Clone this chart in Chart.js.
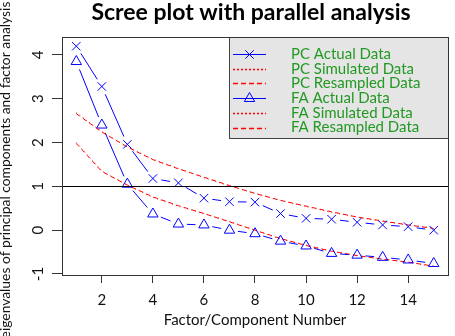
<!DOCTYPE html>
<html>
<head>
<meta charset="utf-8">
<script src="https://cdn.jsdelivr.net/npm/chart.js@4/dist/chart.umd.min.js"></script>
<style>
  html, body { margin: 0; padding: 0; background: #fff; }
  #wrap { width: 455px; height: 336px; }
</style>
</head>
<body>
<div id="wrap"><canvas id="scree" width="455" height="336"></canvas></div>
<script>
// factor / component numbers
const factorNum = [1, 2, 3, 4, 5, 6, 7, 8, 9, 10, 11, 12, 13, 14, 15];

// eigenvalues
const pcActual    = [4.2, 3.28, 1.96, 1.18, 1.08, 0.73, 0.65, 0.64, 0.38, 0.27, 0.25, 0.18, 0.12, 0.08, 0.0];
const pcSimulated = [2.68, 2.25, 1.9, 1.62, 1.41, 1.2, 1.01, 0.84, 0.68, 0.54, 0.41, 0.3, 0.2, 0.12, 0.05];
const pcResampled = [2.66, 2.24, 1.9, 1.61, 1.4, 1.21, 1.02, 0.84, 0.68, 0.55, 0.42, 0.3, 0.21, 0.12, 0.04];
const faActual    = [3.85, 2.4, 1.05, 0.37, 0.14, 0.12, 0.0, -0.08, -0.25, -0.36, -0.53, -0.57, -0.62, -0.68, -0.76];
const faSimulated = [2.0, 1.35, 1.03, 0.75, 0.55, 0.38, 0.2, 0.0, -0.2, -0.34, -0.48, -0.58, -0.66, -0.73, -0.83];
const faResampled = [1.98, 1.34, 1.03, 0.76, 0.56, 0.38, 0.19, 0.0, -0.19, -0.35, -0.48, -0.58, -0.66, -0.73, -0.82];

const seriesNames = ["PC Actual Data", "PC Simulated Data", "PC Resampled Data",
                     "FA Actual Data", "FA Simulated Data", "FA Resampled Data"];

const xTicks = [2, 4, 6, 8, 10, 12, 14];
const yTicks = [-1, 0, 1, 2, 3, 4];
const kaiserLine = 1;

const titleText = "Scree plot with parallel analysis";
const yTitle = "eigenvalues of principal components and factor analysis";

const FONT = "Lato, 'Open Sans', sans-serif";
const GAP = 8.5; // gap around points, like R type="b"

function pts(ys) {
  return ys.map((y, i) => ({ x: factorNum[i], y: y }));
}

// dash pattern that leaves a gap at both ends of every segment
function gapDash(ctx) {
  const L = Math.hypot(ctx.p1.x - ctx.p0.x, ctx.p1.y - ctx.p0.y);
  const g = Math.min(GAP, L / 2);
  return [0, g, Math.max(L - 2 * g, 0.01), g];
}

function actualSet(label, ys, style) {
  return {
    label: label,
    data: pts(ys),
    borderColor: "#0000ff",
    borderWidth: 1,
    pointStyle: style,
    pointRadius: 6,
    pointBorderWidth: 1,
    pointBorderColor: "#0000ff",
    pointBackgroundColor: "rgba(0,0,0,0)",
    segment: { borderDash: gapDash },
    _legendDash: []
  };
}

function redSet(label, ys, dash, legendDash) {
  return {
    label: label,
    data: pts(ys),
    borderColor: "#ff0000",
    borderWidth: 1,
    borderDash: dash,
    pointRadius: 0,
    _legendDash: legendDash
  };
}

const extras = {
  id: "extras",
  afterDatasetsDraw(chart) {
    const { ctx, chartArea: a, scales } = chart;
    ctx.save();
    // horizontal line at eigenvalue 1
    const y1 = Math.round(scales.y.getPixelForValue(kaiserLine)) + 0.5;
    ctx.strokeStyle = "#000";
    ctx.lineWidth = 1;
    ctx.beginPath();
    ctx.moveTo(a.left, y1);
    ctx.lineTo(a.right, y1);
    ctx.stroke();
    ctx.restore();
  },
  afterDraw(chart) {
    const { ctx, chartArea: a } = chart;
    ctx.save();

    // main title
    ctx.fillStyle = "#000";
    ctx.font = "bold 23px " + FONT;
    ctx.textAlign = "center";
    ctx.textBaseline = "middle";
    ctx.fillText(titleText, (a.left + a.right) / 2 - 4, 13);

    // y axis title (long, runs past the canvas edges like the original)
    ctx.save();
    ctx.font = "15px " + FONT;
    const w = ctx.measureText(yTitle).width;
    const size = 15 * 337 / w;
    ctx.font = size.toFixed(2) + "px " + FONT;
    ctx.translate(6, 170);
    ctx.rotate(-Math.PI / 2);
    ctx.fillStyle = "#111";
    ctx.fillText(yTitle, 0, 0);
    ctx.restore();

    // legend box (top right, inside plot)
    const lx = a.left + 167, ly = a.top, lw = a.right - lx, lh = 101;
    ctx.fillStyle = "#e5e5e5";
    ctx.fillRect(lx, ly, lw, lh);
    ctx.strokeStyle = "#444";
    ctx.lineWidth = 1;
    ctx.strokeRect(Math.round(lx) + 0.5, Math.round(ly) + 0.5, Math.round(lw), Math.round(lh));

    chart.data.datasets.forEach((ds, i) => {
      const ry = ly + 17 + i * 14.7;
      const dashed = (ds._legendDash || []).length > 0;
      const yy = Math.round(ry) + 0.5;
      ctx.strokeStyle = ds.borderColor;
      ctx.lineWidth = dashed ? 1.4 : 1;
      ctx.setLineDash(ds._legendDash || []);
      ctx.beginPath();
      ctx.moveTo(lx + 4, yy);
      ctx.lineTo(lx + 37, yy);
      ctx.stroke();
      ctx.setLineDash([]);
      ctx.lineWidth = 1;
      if (ds.pointRadius > 0) {
        ctx.fillStyle = "rgba(0,0,0,0)";
        ctx.strokeStyle = ds.borderColor;
        Chart.helpers.drawPoint(ctx, {
          pointStyle: ds.pointStyle, radius: ds.pointRadius,
          borderWidth: 1, rotation: 0
        }, lx + 20.5, yy);
      }
      ctx.fillStyle = "#229922";
      ctx.font = "15px " + FONT;
      ctx.textBaseline = "middle";
      ctx.textAlign = "left";
      ctx.fillText(seriesNames[i], lx + 62, ry);
    });

    // plot frame
    ctx.strokeStyle = "#333";
    ctx.lineWidth = 1;
    ctx.strokeRect(Math.round(a.left) + 0.5, Math.round(a.top) + 0.5,
                   Math.round(a.right - a.left), Math.round(a.bottom - a.top));
    ctx.restore();
  }
};

new Chart("scree", {
  type: "line",
  data: {
    datasets: [
      actualSet(seriesNames[0], pcActual, "crossRot"),
      redSet(seriesNames[1], pcSimulated, [1, 3], [2, 2]),
      redSet(seriesNames[2], pcResampled, [4, 4], [5, 3]),
      actualSet(seriesNames[3], faActual, "triangle"),
      redSet(seriesNames[4], faSimulated, [1, 3], [2, 2]),
      redSet(seriesNames[5], faResampled, [4, 4], [5, 3])
    ]
  },
  options: {
    responsive: false,
    animation: false,
    layout: { padding: { top: 37, right: 2, bottom: 0, left: 0 } },
    elements: { line: { tension: 0, fill: false } },
    plugins: {
      legend: { display: false },
      tooltip: { enabled: false },
      title: { display: false }
    },
    scales: {
      x: {
        type: "linear",
        min: 0.44,
        max: 15.56,
        afterBuildTicks: s => { s.ticks = xTicks.map(v => ({ value: v })); },
        afterFit: s => { s.height = 61; },
        grid: { drawOnChartArea: false, drawTicks: true, tickLength: 8, color: "#333" },
        border: { display: false },
        ticks: { color: "#111", padding: 8, maxRotation: 0, font: { family: FONT, size: 15 } },
        title: {
          display: true,
          text: "Factor/Component Number",
          color: "#111",
          font: { family: FONT, size: 15 },
          padding: { top: 0, bottom: 7 }
        }
      },
      y: {
        type: "linear",
        min: -1.023,
        max: 4.41,
        afterBuildTicks: s => { s.ticks = yTicks.map(v => ({ value: v })); },
        afterFit: s => { s.width = 62; },
        grid: { drawOnChartArea: false, drawTicks: true, tickLength: 10, color: "#333" },
        border: { display: false },
        ticks: {
          color: "#111", padding: 7, minRotation: 90, maxRotation: 90,
          crossAlign: "center", font: { family: FONT, size: 15 }
        },
        title: { display: false }
      }
    }
  },
  plugins: [extras]
});
</script>
</body>
</html>
